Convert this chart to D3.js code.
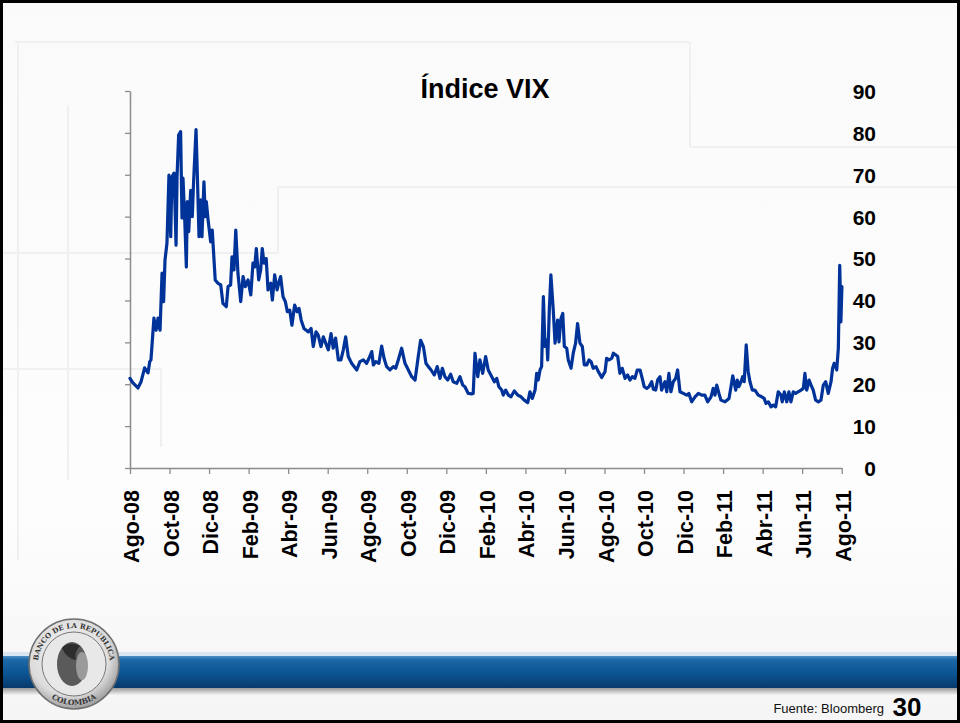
<!DOCTYPE html>
<html><head><meta charset="utf-8">
<script src="https://cdn.jsdelivr.net/npm/d3@7"></script>
<style>html,body{margin:0;padding:0;background:#fff;} svg{display:block;}</style>
</head><body>
<svg id="c" width="960" height="723"></svg>
<script>
const title = "Índice VIX";
const tickLabels = ["Ago-08","Oct-08","Dic-08","Feb-09","Abr-09","Jun-09","Ago-09","Oct-09","Dic-09","Feb-10","Abr-10","Jun-10","Ago-10","Oct-10","Dic-10","Feb-11","Abr-11","Jun-11","Ago-11"];
const yTicks = [0,10,20,30,40,50,60,70,80,90];
const source = "Fuente: Bloomberg";
const pageNumber = "30";
const sealTop = "BANCO DE LA REPUBLICA";
const sealBottom = "COLOMBIA";

// months elapsed since Ago-08 (trading-day axis position)
const months = [0,0.15,0.40,0.56,0.74,0.91,1.00,1.06,1.21,1.32,1.42,1.52,1.62,1.70,1.77,1.87,1.97,2.06,2.12,2.23,2.33,2.38,2.46,2.56,2.63,2.68,2.77,2.85,2.90,2.97,3.07,3.15,3.22,3.34,3.40,3.49,3.58,3.64,3.74,3.81,3.86,3.95,4.08,4.16,4.31,4.45,4.59,4.70,4.87,4.96,5.09,5.16,5.26,5.35,5.46,5.60,5.72,5.83,5.97,6.11,6.22,6.31,6.39,6.51,6.61,6.69,6.78,6.89,6.98,7.12,7.20,7.32,7.44,7.52,7.62,7.74,7.86,7.96,8.08,8.19,8.33,8.45,8.55,8.66,8.80,
9.02,9.16,9.27,9.41,9.52,9.66,9.78,9.90,10.03,10.17,10.28,10.40,10.54,10.67,10.79,10.91,11.04,11.21,11.47,11.63,11.80,11.97,12.09,12.23,12.31,12.43,12.59,12.73,12.85,12.98,13.15,13.32,13.44,13.57,13.74,13.91,14.08,14.25,14.42,14.58,14.70,14.84,14.97,15.09,15.23,15.39,15.54,15.68,15.80,15.93,16.07,16.22,16.35,16.53,16.69,16.83,16.94,17.11,17.28,17.36,17.45,17.59,17.70,17.84,17.99,
18.12,18.30,18.43,18.55,18.66,18.80,18.88,19.00,19.14,19.27,19.44,19.61,19.78,19.94,20.12,20.23,20.35,20.49,20.57,20.65,20.74,20.82,20.91,20.99,21.08,21.13,21.21,21.29,21.41,21.50,21.63,21.70,21.80,21.89,21.97,22.09,22.17,22.31,22.42,22.54,22.64,22.76,22.88,22.98,23.10,23.22,23.32,23.43,23.57,23.69,23.86,24.03,24.11,24.23,24.37,24.45,24.57,24.67,24.78,24.90,25.04,25.17,25.29,25.41,25.54,25.66,25.80,25.91,26.01,26.14,26.25,26.39,26.47,26.59,26.69,26.81,26.89,
27.06,27.15,27.26,27.36,27.48,27.60,27.70,27.82,27.99,28.16,28.27,28.41,28.58,28.75,28.92,29.08,29.22,29.39,29.50,29.59,29.68,29.79,29.89,30.10,30.30,30.40,30.49,30.57,30.64,30.72,30.80,30.91,30.99,31.07,31.17,31.27,31.36,31.48,31.61,31.78,31.95,32.08,32.17,32.29,32.42,32.54,32.66,32.79,32.93,32.99,33.10,33.22,33.33,33.43,33.55,33.67,33.80,33.94,34.06,34.14,34.23,34.35,34.45,34.56,34.68,34.82,34.95,35.07,35.19,35.32,35.46,35.54,35.62,35.75,35.83,35.90,35.96,36.01];

const vix = [21.4,20.3,19.1,20.6,23.9,22.7,25.4,25.8,35.8,32.9,35.8,32.9,46.5,39.7,49.6,53.7,69.9,55.2,69.5,70.4,53.2,69.5,79.5,80.3,59.7,69.2,59.2,48.0,63.6,56.4,66.3,60.0,68.7,80.8,71.1,55.2,64.0,55.2,68.3,60.0,63.6,59.2,54.0,56.8,44.9,44.1,43.7,39.3,38.5,43.3,43.7,50.4,47.3,56.8,46.5,39.7,45.7,43.3,44.9,41.3,48.9,48.0,52.4,44.9,47.3,52.4,48.9,50.0,42.5,44.1,40.1,46.1,42.5,44.1,45.7,40.9,39.7,37.3,37.7,34.1,38.9,37.3,38.1,35.3,33.3,
32.5,33.3,29.0,32.5,31.7,29.0,31.3,29.8,28.2,32.1,28.6,31.0,25.8,25.8,28.2,31.3,26.6,25.0,23.4,25.4,25.8,25.0,26.2,27.8,24.6,25.4,25.0,29.1,26.2,24.2,23.4,24.2,23.8,25.8,28.6,25.0,23.4,21.8,21.0,26.6,30.5,29.0,25.0,24.2,23.4,22.2,24.2,21.4,23.8,21.8,21.0,22.4,20.6,20.2,21.8,19.8,19.4,17.8,17.7,17.8,27.4,21.8,25.8,22.6,26.6,
23.4,21.8,20.6,21.4,19.4,18.6,17.4,18.6,17.4,17.0,18.4,17.4,17.0,16.2,15.6,18.2,16.6,18.6,22.6,21.0,23.4,24.2,40.9,29.0,30.5,25.8,37.7,46.1,37.7,29.8,35.3,30.1,35.7,36.9,29.0,28.6,25.8,23.8,27.4,29.8,34.5,29.8,29.0,24.6,24.6,25.8,25.4,23.8,24.2,23.0,21.6,23.0,26.2,25.8,26.2,27.4,27.0,26.6,22.6,23.8,21.4,22.2,21.0,21.8,21.4,23.4,23.4,21.4,19.4,19.0,19.4,20.6,18.8,18.6,21.0,21.8,18.6,
20.6,18.2,22.6,18.2,20.6,21.4,23.4,18.2,17.8,17.4,17.8,15.8,17.0,17.8,17.4,17.4,15.8,17.0,19.0,17.4,19.8,17.8,16.2,15.8,16.6,19.4,22.0,20.2,18.6,21.0,19.4,20.6,21.8,20.6,29.4,23.0,20.6,18.6,18.6,17.4,17.0,16.6,15.4,15.8,14.6,15.0,14.6,18.2,17.4,15.8,18.2,15.8,18.2,15.8,18.2,17.8,18.2,18.6,19.0,22.6,18.6,21.0,19.8,18.6,16.2,15.8,16.2,19.8,20.6,17.8,20.6,23.8,25.0,23.4,28.6,48.4,34.9,43.3];

const FONT = "'Liberation Sans', Arial, Helvetica, sans-serif";
const svg = d3.select("#c");
const defs = svg.append("defs");

// ---------- slide background ----------
const bgGrad = defs.append("linearGradient").attr("id","bg").attr("x1",0).attr("y1",0).attr("x2",0).attr("y2",1);
bgGrad.append("stop").attr("offset","0%").attr("stop-color","#fafafa");
bgGrad.append("stop").attr("offset","70%").attr("stop-color","#fdfdfd");
bgGrad.append("stop").attr("offset","100%").attr("stop-color","#f5f5f5");
svg.append("rect").attr("width",960).attr("height",723).attr("fill","url(#bg)");

const deco = [
  [15,42,690,42],[690,42,690,147],[690,147,960,147],
  [278,187,960,187],[278,187,278,253],[0,253,278,253],
  [18,42,18,560],[68,105,68,480],[0,369,161,369],[161,369,161,447]
];
svg.append("g").selectAll("line").data(deco).join("line")
  .attr("x1",d=>d[0]).attr("y1",d=>d[1]).attr("x2",d=>d[2]).attr("y2",d=>d[3])
  .attr("stroke","#f0f0f0").attr("stroke-width",2);

// ---------- chart ----------
const x = d3.scaleLinear().domain([0,36]).range([130,841.7]);
const y = d3.scaleLinear().domain([0,90]).range([468,91]);

const tickVals = tickLabels.map((_,i)=>i*2);

// x axis
const gx = svg.append("g").attr("transform","translate(0,468)")
  .call(d3.axisBottom(x).tickValues(tickVals).tickSize(6).tickSizeOuter(0)
        .tickFormat(d=>tickLabels[d/2]));
gx.select(".domain").attr("stroke","#8c8c8c").attr("stroke-width",1.5);
gx.selectAll(".tick line").attr("stroke","#8c8c8c").attr("stroke-width",1.3);
gx.selectAll(".tick text")
  .attr("transform","translate(0,22) rotate(-90)")
  .attr("x",0).attr("y",0).attr("dy","0.40em")
  .attr("text-anchor","end")
  .attr("font-family",FONT).attr("font-weight","bold").attr("font-size",21.5).attr("fill","#000");

// left axis (ticks only)
const gy = svg.append("g").attr("transform","translate(130,0)")
  .call(d3.axisLeft(y).tickValues(yTicks).tickSize(5).tickSizeOuter(0).tickFormat(""));
gy.select(".domain").attr("stroke","#8c8c8c").attr("stroke-width",1.5);
gy.selectAll(".tick line").attr("stroke","#8c8c8c").attr("stroke-width",1.3);

// right labels
const gyr = svg.append("g").attr("transform","translate(876,0)")
  .call(d3.axisRight(y).tickValues(yTicks).tickSize(0).tickPadding(0));
gyr.select(".domain").remove();
gyr.selectAll(".tick text").attr("text-anchor","end").attr("x",0).attr("dy","0.35em")
  .attr("font-family",FONT).attr("font-weight","bold").attr("font-size",21).attr("fill","#000");

// series line
const pts = months.map((m,i)=>[m,vix[i]]);
svg.append("path").datum(pts)
  .attr("fill","none").attr("stroke","#003399").attr("stroke-width",3.2)
  .attr("stroke-linejoin","round").attr("stroke-linecap","round")
  .attr("d", d3.line().x(d=>x(d[0])).y(d=>y(d[1])));

// title
svg.append("text").attr("x",485).attr("y",98).attr("text-anchor","middle")
  .attr("font-family",FONT).attr("font-weight","bold").attr("font-size",27).attr("fill","#000")
  .text(title);

// ---------- footer band ----------
const band = defs.append("linearGradient").attr("id","band").attr("x1",0).attr("y1",0).attr("x2",0).attr("y2",1);
band.append("stop").attr("offset","0%").attr("stop-color","#4f8fc4");
band.append("stop").attr("offset","12%").attr("stop-color","#1c67a6");
band.append("stop").attr("offset","55%").attr("stop-color","#0b5493");
band.append("stop").attr("offset","100%").attr("stop-color","#083a6a");
const shadow = defs.append("linearGradient").attr("id","shadow").attr("x1",0).attr("y1",0).attr("x2",0).attr("y2",1);
shadow.append("stop").attr("offset","0%").attr("stop-color","#9a9a9a");
shadow.append("stop").attr("offset","100%").attr("stop-color","#f3f3f3");
svg.append("rect").attr("x",0).attr("y",652).attr("width",960).attr("height",4).attr("fill","#d9e6f1");
svg.append("rect").attr("x",0).attr("y",656).attr("width",960).attr("height",32).attr("fill","url(#band)");
svg.append("rect").attr("x",0).attr("y",688).attr("width",960).attr("height",7).attr("fill","url(#shadow)");

// ---------- seal ----------
const cx = 74, cy = 664, R = 45;
const sealG = defs.append("radialGradient").attr("id","seal").attr("cx","45%").attr("cy","40%").attr("r","60%");
sealG.append("stop").attr("offset","0%").attr("stop-color","#f6f6f6");
sealG.append("stop").attr("offset","75%").attr("stop-color","#dcdcdc");
sealG.append("stop").attr("offset","100%").attr("stop-color","#a0a0a0");
const seal = svg.append("g");
seal.append("circle").attr("cx",cx).attr("cy",cy).attr("r",R).attr("fill","url(#seal)").attr("stroke","#6f6f6f").attr("stroke-width",1.5);
seal.append("circle").attr("cx",cx).attr("cy",cy).attr("r",R-13).attr("fill","#e8e8e8").attr("stroke","#777").attr("stroke-width",1);
const rt = R-9, rb = R-4;
const a0 = 200*Math.PI/180, a1 = -20*Math.PI/180;
defs.append("path").attr("id","arcTop")
  .attr("d",`M ${cx+rt*Math.cos(a0)} ${cy-rt*Math.sin(a0)} A ${rt} ${rt} 0 1 1 ${cx+rt*Math.cos(a1)} ${cy-rt*Math.sin(a1)}`);
defs.append("path").attr("id","arcBot")
  .attr("d",`M ${cx-rb} ${cy} A ${rb} ${rb} 0 0 0 ${cx+rb} ${cy}`);
seal.append("text").attr("font-family","'DejaVu Serif', serif").attr("font-weight","bold").attr("font-size",7).attr("fill","#333")
  .append("textPath").attr("href","#arcTop").attr("startOffset","50%").attr("text-anchor","middle").text(sealTop);
seal.append("text").attr("font-family","'DejaVu Serif', serif").attr("font-weight","bold").attr("font-size",7.5).attr("fill","#333")
  .append("textPath").attr("href","#arcBot").attr("startOffset","50%").attr("text-anchor","middle").text(sealBottom);
// head profile
seal.append("ellipse").attr("cx",cx-2).attr("cy",cy).attr("rx",15).attr("ry",22).attr("fill","#5a5a5a");
seal.append("ellipse").attr("cx",cx+8).attr("cy",cy+2).attr("rx",6).attr("ry",14).attr("fill","#9a9a9a");
seal.append("path").attr("d",`M ${cx-12} ${cy-16} q 8 -8 18 -2 q -6 6 -4 14 q -10 -2 -14 -12 z`).attr("fill","#2e2e2e");

// ---------- source & page number ----------
svg.append("text").attr("x",884).attr("y",713).attr("text-anchor","end")
  .attr("font-family",FONT).attr("font-size",13).attr("fill","#111").text(source);
svg.append("text").attr("x",907).attr("y",716).attr("text-anchor","middle")
  .attr("font-family",FONT).attr("font-weight","bold").attr("font-size",26).attr("fill","#000").text(pageNumber);

// ---------- slide frame ----------
svg.append("rect").attr("x",1.5).attr("y",1.5).attr("width",957).attr("height",720)
  .attr("fill","none").attr("stroke","#000").attr("stroke-width",3);
</script>
</body></html>
